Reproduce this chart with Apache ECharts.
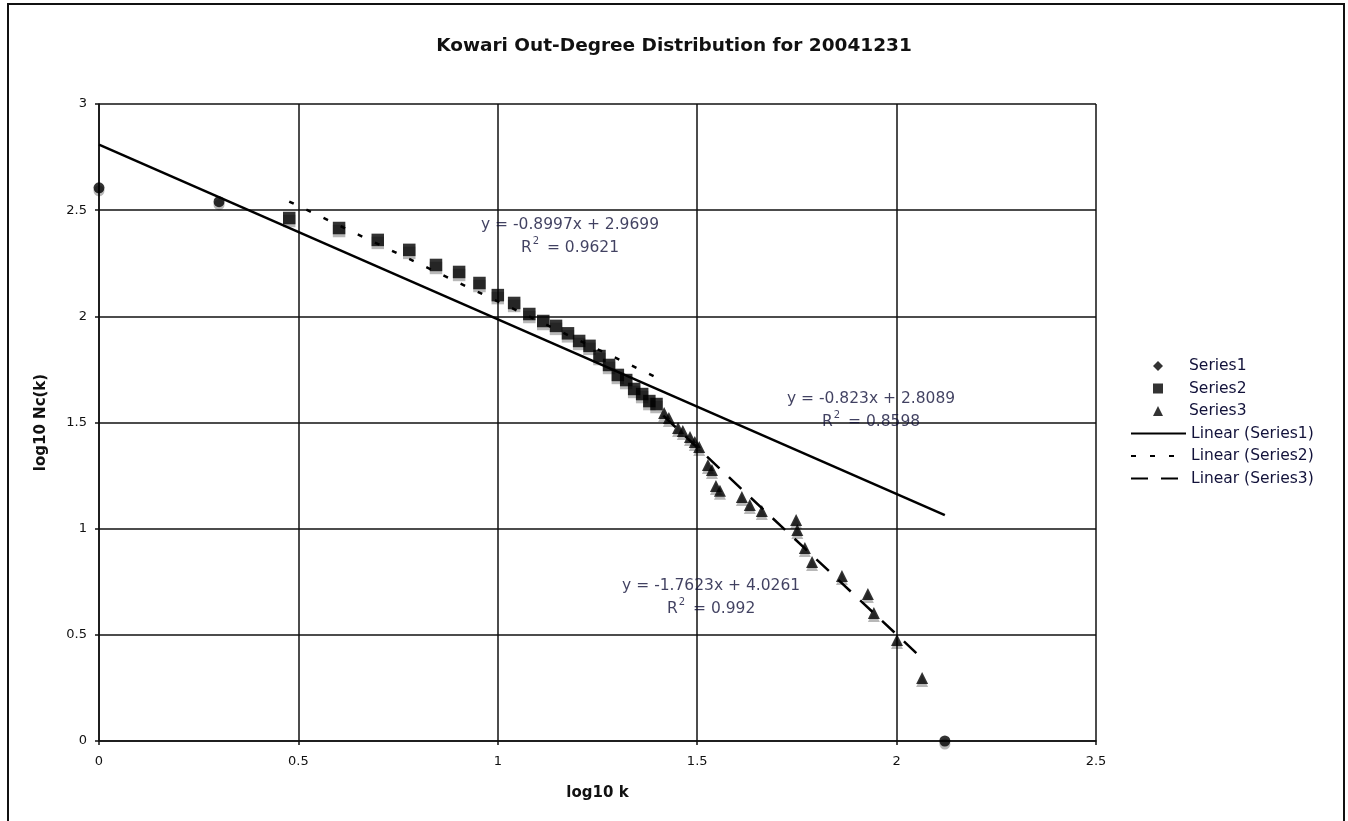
<!DOCTYPE html>
<html>
<head>
<meta charset="utf-8">
<script src="https://cdn.jsdelivr.net/npm/echarts@6/dist/echarts.min.js"></script>
<style>
  html, body { margin: 0; padding: 0; background: #fff; }
  #chart { width: 1348px; height: 821px; }
</style>
</head>
<body>
<div id="chart"></div>
<script>
// out-degree distribution, log10 k vs log10 Nc(k)
var xTicks = ['0', '0.5', '1', '1.5', '2', '2.5'];
var yTicks = ['0', '0.5', '1', '1.5', '2', '2.5', '3'];

// Series1 - visible circle points
var series1 = [[0, 2.605], [0.301, 2.54], [2.121, 0]];

// Series2 - squares
var series2 = [
  [0.477, 2.463], [0.602, 2.416], [0.699, 2.36], [0.778, 2.313], [0.845, 2.242],
  [0.903, 2.209], [0.954, 2.157], [1.0, 2.10], [1.041, 2.063], [1.079, 2.011],
  [1.114, 1.978], [1.146, 1.955], [1.176, 1.92], [1.204, 1.884], [1.230, 1.861],
  [1.255, 1.813], [1.279, 1.771], [1.301, 1.724], [1.322, 1.70], [1.342, 1.658],
  [1.362, 1.634], [1.380, 1.601], [1.398, 1.587]
];

// Series3 - triangles
var series3 = [
  [1.417, 1.545], [1.429, 1.521], [1.452, 1.474], [1.464, 1.46], [1.482, 1.432],
  [1.494, 1.408], [1.505, 1.385], [1.527, 1.30], [1.537, 1.276], [1.547, 1.201],
  [1.557, 1.178], [1.612, 1.149], [1.632, 1.112], [1.662, 1.083], [1.748, 1.041],
  [1.751, 0.994], [1.770, 0.909], [1.788, 0.843], [1.863, 0.777], [1.928, 0.692],
  [1.943, 0.603], [2.001, 0.476], [2.064, 0.297]
];

// trendline coefficients [slope, intercept, r2] and x range
var trend1 = [-0.823, 2.8089, 0.8598];
var trend2 = [-0.8997, 2.9699, 0.9621];
var trend3 = [-1.7623, 4.0261, 0.992];
var trend1Range = [0, 2.121];
var trend2Range = [0.477, 1.398];
var trend3Range = [1.415, 2.068];

function trendLine(c, r) {
  return [[r[0], c[0] * r[0] + c[1]], [r[1], c[0] * r[1] + c[1]]];
}
function eqText(c) {
  var b = c[1] < 0 ? ' - ' + (-c[1]) : ' + ' + c[1];
  return 'y = ' + c[0] + 'x' + b + '\n{r|R}{s|2}{r| = ' + c[2] + '}';
}

var font = 'DejaVu Sans';
var textColor = '#12123a';
var shadow = { shadowColor: 'rgba(0,0,0,0.35)', shadowOffsetY: 3, shadowBlur: 0 };

function eqSeries(pos, c) {
  return {
    type: 'scatter',
    silent: true,
    symbolSize: 0,
    z: 10,
    data: [pos],
    label: {
      show: true,
      position: 'inside',
      formatter: eqText(c),
      fontFamily: font,
      fontSize: 15.5,
      color: textColor,
      lineHeight: 23,
      align: 'center',
      rich: {
        r: { fontFamily: font, fontSize: 15.5, color: textColor },
        s: { fontFamily: font, fontSize: 10, color: textColor, verticalAlign: 'top', padding: [0, 3, 7, 1] }
      }
    }
  };
}

var chart = echarts.init(document.getElementById('chart'));

chart.setOption({
  backgroundColor: '#fff',
  animation: false,
  title: {
    text: 'Kowari Out-Degree Distribution for 20041231',
    left: 'center',
    top: 32,
    textStyle: { fontFamily: font, fontSize: 18.5, fontWeight: 'bold', color: '#111' }
  },
  graphic: [{
    type: 'rect',
    shape: { x: 8, y: 4, width: 1336, height: 840 },
    style: { fill: 'none', stroke: '#111', lineWidth: 2 },
    silent: true
  }],
  legend: [
    {
      orient: 'vertical',
      left: 1153,
      top: 358,
      padding: 0,
      itemWidth: 10,
      itemHeight: 10,
      itemGap: 6.5,
      textStyle: { fontFamily: font, fontSize: 15.5, lineHeight: 16, color: textColor, padding: [0, 0, 0, 21] },
      data: [
        { name: 'Series1', icon: 'diamond' },
        { name: 'Series2', icon: 'rect' },
        { name: 'Series3', icon: 'triangle' }
      ]
    },
    {
      orient: 'vertical',
      left: 1130,
      top: 425.5,
      padding: 0,
      itemWidth: 55,
      itemHeight: 10,
      itemGap: 6.5,
      itemStyle: { color: 'rgba(0,0,0,0)', borderWidth: 0 },
      textStyle: { fontFamily: font, fontSize: 15.5, lineHeight: 16, color: textColor },
      data: ['Linear (Series1)', 'Linear (Series2)', 'Linear (Series3)']
    }
  ],
  grid: { left: 99, top: 104, right: 252, bottom: 80 },
  xAxis: {
    type: 'value',
    min: 0, max: 2.5, interval: 0.5,
    name: 'log10 k',
    nameLocation: 'middle',
    nameGap: 45,
    nameTextStyle: { fontFamily: font, fontSize: 15, fontWeight: 'bold', color: '#111' },
    axisLine: { show: true, lineStyle: { color: '#111', width: 1.5 } },
    axisTick: { show: true, length: 4, lineStyle: { color: '#111', width: 1.5 } },
    axisLabel: {
      fontFamily: font, fontSize: 13, color: '#111', margin: 14,
      formatter: function (v) { return xTicks[Math.round(v / 0.5)]; }
    },
    splitLine: { show: true, lineStyle: { color: '#111', width: 1.5 } }
  },
  yAxis: {
    type: 'value',
    min: 0, max: 3, interval: 0.5,
    name: 'log10 Nc(k)',
    nameLocation: 'middle',
    nameGap: 50,
    nameTextStyle: { fontFamily: font, fontSize: 15, fontWeight: 'bold', color: '#111' },
    axisLine: { show: true, lineStyle: { color: '#111', width: 1.5 } },
    axisTick: { show: true, length: 4, lineStyle: { color: '#111', width: 1.5 } },
    axisLabel: {
      fontFamily: font, fontSize: 13, color: '#111', margin: 12,
      formatter: function (v) { return yTicks[Math.round(v / 0.5)]; }
    },
    splitLine: { show: true, lineStyle: { color: '#111', width: 1.5 } }
  },
  series: [
    {
      name: 'Series1', type: 'scatter', symbol: 'circle', symbolSize: 11, z: 5,
      itemStyle: Object.assign({ color: '#000' }, shadow),
      data: series1
    },
    {
      name: 'Series2', type: 'scatter', symbol: 'rect', symbolSize: 12.5, z: 5,
      itemStyle: Object.assign({ color: '#000' }, shadow),
      data: series2
    },
    {
      name: 'Series3', type: 'scatter', symbol: 'triangle', symbolSize: 12, z: 5,
      itemStyle: Object.assign({ color: '#000' }, shadow),
      data: series3
    },
    {
      name: 'Linear (Series1)', type: 'line', symbol: 'none', z: 4,
      lineStyle: { color: '#000', width: 2.5, type: 'solid' },
      itemStyle: { color: '#000' },
      data: trendLine(trend1, trend1Range)
    },
    {
      name: 'Linear (Series2)', type: 'line', symbol: 'none', z: 4,
      lineStyle: { color: '#000', width: 2.5, type: [5, 14] },
      itemStyle: { color: '#000' },
      data: trendLine(trend2, trend2Range)
    },
    {
      name: 'Linear (Series3)', type: 'line', symbol: 'none', z: 4,
      lineStyle: { color: '#000', width: 2.5, type: [17, 13] },
      itemStyle: { color: '#000' },
      data: trendLine(trend3, trend3Range)
    },
    eqSeries([1.181, 2.376], trend2),
    eqSeries([1.936, 1.559], trend1),
    eqSeries([1.535, 0.674], trend3)
  ]
});
</script>
</body>
</html>
